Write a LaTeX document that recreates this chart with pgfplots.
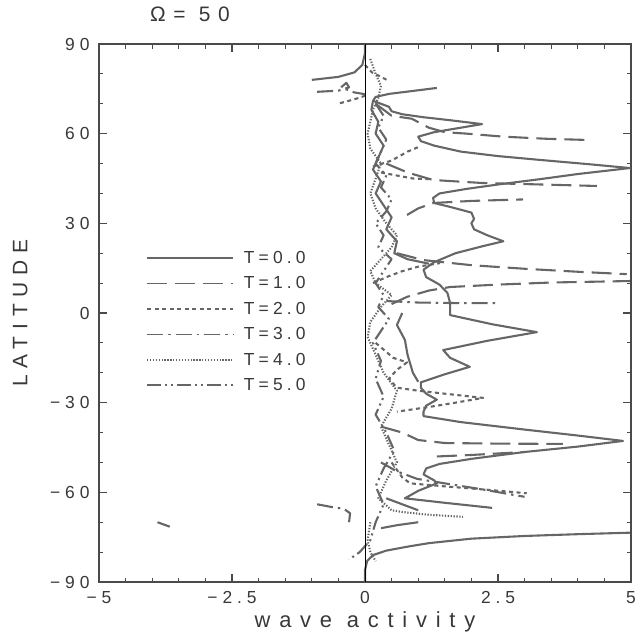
\documentclass[border=0pt]{standalone}
\usepackage{fontspec}
\usepackage{pgfplots}
\pgfplotsset{compat=1.18}
\newfontfamily\pf[LetterSpace=28]{Liberation Sans}
\newfontfamily\pfx[LetterSpace=40]{Liberation Sans}
\newfontfamily\pfy[LetterSpace=33]{Liberation Sans}
\newfontfamily\pfl[LetterSpace=24]{Liberation Sans}
\newfontfamily\pft[LetterSpace=36]{Liberation Sans}
\definecolor{cg}{HTML}{666666}
\definecolor{axg}{HTML}{4A4A4A}
\definecolor{tg}{HTML}{383838}
\tikzset{cv/.style={draw=cg, line width=2.1pt, line join=round}}
\begin{document}
\begin{tikzpicture}
\path[use as bounding box] (-99bp,-56bp) rectangle (542bp,582bp);
\begin{axis}[
  at={(0,0)}, anchor=south west, scale only axis,
  width=532bp, height=538bp,
  xmin=-5, xmax=5, ymin=-90, ymax=90,
  xtick={-5,-2.5,0,2.5,5}, xticklabels={−5,−2.5,0,2.5,5},
  ytick={-90,-60,-30,0,30,60,90}, yticklabels={−90,−60,−30,0,30,60,90},
  minor x tick num=4, minor y tick num=2,
  tick align=inside, major tick length=8bp, minor tick length=4.5bp,
  axis line style={draw=axg, line width=1.7pt},
  every tick/.style={axg, line width=1.2pt},
  tick label style={font=\pf\fontsize{17.5}{18}\selectfont, text=tg},
  xticklabel style={yshift=-6bp},
  yticklabel style={xshift=-6bp},
  unbounded coords=jump,
  clip=false,
  title={\pft\fontsize{21}{22}\selectfont Ω= 50},
  title style={at={(axis description cs:0.171,1.045)}, anchor=center, text=tg},
  xlabel={\pfx\fontsize{22}{23}\selectfont wave activity},
  xlabel style={at={(axis description cs:0.5,-0.074)}, anchor=center, text=tg},
  ylabel={\pfy\fontsize{21}{22}\selectfont LATITUDE},
  ylabel style={at={(axis description cs:-0.148,0.5)}, anchor=center, rotate=0, text=tg},
  legend style={at={(axis description cs:0.0883,0.619)}, anchor=north west,
    draw=none, fill=none, inner sep=0pt, row sep=7.8bp, column sep=8bp,
    font=\pfl\fontsize{17.5}{18}\selectfont, text=tg, cells={anchor=west}},
  legend image code/.code={\draw[#1, line width=1.7pt] (0bp,0bp) -- (86bp,0bp);},
]
% T=0 solid
\addplot[cv, solid] coordinates {
(1.35,75.3)(0.9,74.3)(0.45,73.3)(0.2,72.3)(0.15,71)(0.3,70)(0.45,69)(0.5,67.5)(0.7,66.5)(1.1,65.5)(1.6,64.5)(2.2,63.2)(1.8,62)(1.3,60.5)(1.0,59)(1.05,57.5)(1.3,56)(1.8,54)(2.5,52.5)(3.3,51.2)(4.2,49.8)(4.98,48.5)(4.0,46.5)(3.3,44.8)(2.5,43)(1.9,41.5)(1.4,40)(1.28,38.5)(1.3,36.8)(1.6,35.5)(2.0,33.6)(2.05,31.5)(2.0,30)(2.05,28)(2.3,26)(2.6,24)(2.2,22.3)(1.7,20)(1.3,17)(1.1,14.5)(1.15,12)(1.4,9.5)(1.55,6.7)(1.6,3.3)(1.6,-0.7)(2.4,-3.8)(3.23,-6.4)(2.3,-9.3)(1.47,-12.4)(1.6,-15)(1.97,-18)(1.5,-20.5)(1.05,-23.2)(1.05,-25)(1.15,-27)(1.35,-29)(1.15,-31)(1.1,-33)(1.1,-34.5)(1.8,-36.5)(3.0,-39)(4.0,-41)(4.85,-42.8)(4.0,-44.7)(3.0,-46.5)(2.0,-48.8)(1.4,-50.5)(1.15,-52)(1.1,-54)(1.3,-56)(1.35,-57)(1.0,-59.5)(0.75,-62)(1.5,-63.5)(2.39,-65.2)
(nan,nan)
(-1.0,78)(-0.5,79)(-0.2,80.5)(-0.05,83)(0,87)(0,90)
(nan,nan)
(4.98,-73.5)(4.0,-74)(3.0,-74.6)(2.0,-75.5)(1.2,-77)(0.79,-78.2)(0.4,-79.5)(0.15,-81)(0.04,-83)(0,-86)(0,-90)
(nan,nan)
(0.15,71)(0.12,68)(0.25,64)(0.2,60)(0.35,56)(0.25,52)(0.15,48)(0.3,44)(0.2,40)(0.35,36)(0.5,32)(0.4,28)(0.6,24)(0.55,20)(0.8,18)(1.2,16.5)
(nan,nan)
(0.7,0)(0.6,-4)(0.75,-9)(0.8,-14)(0.9,-20)(1.0,-23)
(nan,nan)
(0.4,-62)(0.7,-64)(1.0,-66)
(nan,nan)
(0.3,-72)(0.6,-71)(1.0,-70)
};
\addlegendentry{T=0.0}
% T=1 long dashed
\addplot[cv, dash pattern=on 20bp off 8bp] coordinates {
(0.2,70)(0.5,66)(0.88,65)(1.2,62)(1.5,60.5)(1.92,60)(2.6,59)(3.4,58.3)(4.17,57.9)
(nan,nan)
(0.4,50)(0.8,47)(1.28,44.5)(2.2,43.5)(3.3,43)(4.36,42.5)
(nan,nan)
(0.79,32.8)(1.0,35)(1.28,36.8)(2.0,37.5)(2.97,38)
(nan,nan)
(0.6,20)(1.1,17.7)(2.0,16)(3.0,14.8)(4.0,13.8)(4.92,13)
(nan,nan)
(0.5,3)(0.79,5.4)(1.2,7.5)(1.6,8.7)(2.5,9.5)(3.5,10.2)(4.98,10.7)
(nan,nan)
(0.3,-38)(0.7,-40)(1.0,-42.5)(1.5,-43.5)(2.5,-43.7)(3.72,-43.8)
(nan,nan)
(1.35,-48)(2.0,-47.5)(3.0,-46.5)
(nan,nan)
(-3.9,-70)(-3.67,-71.5)
};
\addlegendentry{T=1.0}
% T=2 short dashed
\addplot[cv, dash pattern=on 4bp off 3.5bp] coordinates {
(0.0,83)(0.13,80.5)(0.3,79)(0.41,78)
(nan,nan)
(-0.47,70.2)(-0.2,71.5)(0.04,72.9)
(nan,nan)
(0.15,49)(0.5,51)(0.8,54)(1.0,55.5)
(nan,nan)
(0.3,47)(0.6,46)(0.9,45)(1.2,44.8)
(nan,nan)
(0.15,10)(0.4,12)(0.7,14)(1.0,15.5)(1.41,16.7)
(nan,nan)
(0.2,-10)(0.4,-13)(0.53,-15)(0.79,-16.5)(0.6,-19)(0.45,-22)(0.6,-25)(1.0,-26)(1.5,-27)(2.22,-28.4)(1.7,-30)(1.22,-31.4)(0.6,-33)
(nan,nan)
(0.5,-50)(0.7,-55)(0.85,-57)(1.5,-58)(2.2,-59)(3.04,-60.3)
};
\addlegendentry{T=2.0}
% T=3 dash-dot
\addplot[cv, dash pattern=on 16bp off 5bp on 2.5bp off 5bp] coordinates {
(-0.9,74)(-0.5,74.4)(-0.3,75.5)(-0.35,77)(-0.45,75.5)(-0.2,73.8)(0,73.2)
(nan,nan)
(0.4,4)(1.0,3.5)(1.8,3.3)(2.54,3.3)
(nan,nan)
(0.3,-50)(0.6,-53)(0.98,-55.5)(1.5,-57)(2.2,-59)(3.0,-61.5)
(nan,nan)
(-0.9,-64)(-0.6,-65)(-0.4,-65.5)(-0.28,-67)(-0.3,-70)
};
\addlegendentry{T=3.0}
% T=4 fine dotted
\addplot[cv, dash pattern=on 1.3bp off 1.6bp] coordinates {
(0.1,85)(0.2,80)(0.3,76)(0.25,72)(0.15,68)(0.1,64)(0.05,60)(0.1,55)(0.3,50)(0.2,45)(0.1,40)(0.2,35)(0.4,30)(0.6,26)(0.5,22)(0.3,18)(0.1,14)(0.2,10)(0.5,6)(0.3,2)(0.1,-3)(0.05,-8)(0.2,-14)(0.35,-20)(0.6,-26)(0.5,-32)(0.3,-38)(0.45,-44)(0.6,-50)(0.4,-56)(0.25,-62)(0.5,-66)(0.71,-66.6)(1.2,-67.5)(1.84,-68.2)
(nan,nan)
(0.1,-70)(0.05,-76)(0.1,-80)(0.2,-83)
};
\addlegendentry{T=4.0}
% T=5 dash-dot-dot
\addplot[cv, dash pattern=on 14bp off 4bp on 2bp off 4bp on 2bp off 4bp] coordinates {
(0.2,70)(0.35,66)(0.25,62)(0.4,58)(0.3,54)(0.2,50)(0.4,46)(0.3,42)(0.5,38)(0.4,34)(0.2,30)(0.35,26)(0.25,22)(0.5,18)(0.35,14)(0.2,10)(0.35,6)(0.25,2)(0.45,-2)(0.3,-6)(0.15,-10)(0.3,-16)(0.2,-22)(0.35,-28)(0.2,-34)(0.4,-40)(0.55,-46)(0.35,-52)(0.2,-58)(0.35,-64)(0.2,-70)(0.1,-76)(-0.1,-80)(-0.3,-82.5)
};
\addlegendentry{T=5.0}
\addplot[black, line width=0.9pt, forget plot] coordinates {(0,-90)(0,90)};
\end{axis}
\end{tikzpicture}
\end{document}
